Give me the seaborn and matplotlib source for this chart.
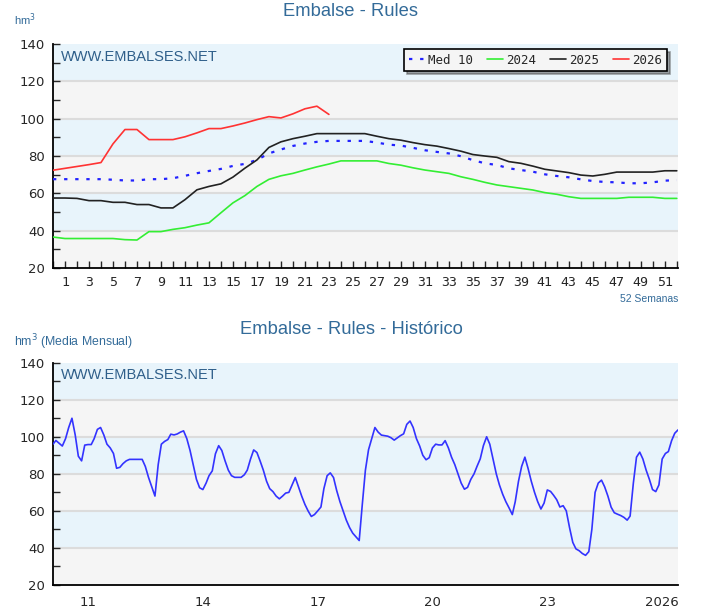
import numpy as np
import pandas as pd
import matplotlib
matplotlib.use("Agg")
import matplotlib.pyplot as plt
import seaborn as sns

# weekly reservoir volume (hm3), weeks 0..52
weeks = list(range(0, 53))
med10 = [67.6, 67.6, 67.6, 67.6, 67.6, 67.3, 66.9, 66.9, 67.6, 67.6,
         68.1, 69.4, 70.8, 72.0, 73.1, 74.7, 75.8, 77.9, 81.4, 83.5,
         85.4, 86.7, 87.6, 88.1, 88.1, 88.1, 88.1, 87.2, 86.1, 85.6,
         84.4, 83.1, 82.2, 81.4, 79.9, 77.8, 76.1, 75.2, 73.4, 72.5,
         71.6, 70.2, 69.3, 68.6, 67.5, 66.6, 66.1, 65.9, 65.4, 65.4,
         65.9, 66.8, 67.1]
y2024 = [36.6, 35.8, 35.8, 35.8, 35.8, 35.8, 35.2, 35.0, 39.5, 39.5,
         40.7, 41.6, 43.0, 44.2, 49.6, 54.9, 58.8, 63.7, 67.5, 69.4,
         70.7, 72.5, 74.2, 75.7, 77.4, 77.4, 77.4, 77.4, 76.0, 75.1,
         73.7, 72.5, 71.6, 70.7, 68.9, 67.5, 65.9, 64.5, 63.6, 62.7,
         61.8, 60.4, 59.5, 58.2, 57.3, 57.3, 57.3, 57.3, 57.9, 57.9,
         57.9, 57.3, 57.3]
y2025 = [57.5, 57.5, 57.3, 56.1, 56.1, 55.2, 55.2, 54.0, 54.0, 52.2,
         52.2, 56.6, 61.9, 63.7, 65.1, 68.7, 73.5, 77.9, 84.6, 87.6,
         89.3, 90.6, 92.0, 92.0, 92.0, 92.0, 92.0, 90.6, 89.3, 88.5,
         87.2, 86.1, 85.3, 84.0, 82.6, 80.8, 80.0, 79.3, 77.0, 76.1,
         74.6, 72.9, 72.0, 71.1, 69.8, 69.3, 70.2, 71.4, 71.4, 71.4,
         71.4, 72.1, 72.1]
y2026 = [72.4, 73.4, 74.4, 75.4, 76.5, 86.5, 94.2, 94.2, 88.8, 88.8,
         88.8, 90.3, 92.4, 94.7, 94.7, 96.1, 97.7, 99.5, 101.1, 100.4,
         102.6, 105.3, 106.7, 102.3]

# monthly mean (hm3), Feb 2010 .. Jun 2026
hist_start = "2010-02-01"
hist_values = [
    96, 98, 96.5, 95, 99, 105, 110, 101, 89.5, 87, 95.5,
    95.8, 95.8, 99, 104, 105, 101, 96, 94, 91, 83, 83.5, 85.5,
    87, 87.8, 87.8, 87.8, 87.8, 87.8, 84, 78, 73, 68, 85, 96,
    97.5, 98.5, 101.4, 101, 101.5, 102.5, 103.2, 99, 92.6, 85, 77, 72.5,
    71.5, 75, 79, 81.6, 90.8, 95.2, 92.6, 87, 82, 79, 78.1, 78.1,
    78.1, 79.5, 82, 88, 92.9, 91.5, 87, 82, 76, 72, 70.4, 68,
    66.5, 68, 69.6, 70, 74, 78, 73, 68, 63.5, 60, 57, 58,
    60, 62.1, 72, 79, 80.5, 78, 71, 65, 60, 55, 51, 48,
    46, 44, 62.5, 81.9, 93, 99, 105, 102.5, 100.9, 100.6, 100.3, 99.5,
    98.2, 99.5, 100.6, 101.6, 106.7, 108.5, 105, 99, 95, 90, 87.6, 88.7,
    94, 96, 95.6, 95.6, 97.9, 94, 89, 85, 80, 75, 71.7, 72.7,
    77, 80, 84, 88.1, 95.2, 100, 96, 88, 80, 74, 69, 65,
    61.6, 58, 65, 76, 84, 89, 83, 76, 70, 65, 61, 64.2,
    71.3, 70.5, 68.5, 66, 62.1, 62.8, 60, 51, 43, 39.5, 38.5, 37,
    36, 38, 50, 70, 75, 76.6, 73, 68, 62, 59, 58.2, 57.5,
    56.5, 55, 57.2, 75, 89, 91.7, 88, 82, 77, 71.5, 70.4, 74,
    88, 91, 92, 97.9, 101.9, 103.7,
]
hist_ticks = ["2011", "2014", "2017", "2020", "2023", "2026"]
hist_tick_labels = ["11", "14", "17", "20", "23", "2026"]

TITLE_C = "#336b99"
BAND_C = "#e8f4fb"
FACE_C = "#f5f5f5"
GRID_C = "#dcdcdc"

sns.set_style("white")
plt.rcParams["font.family"] = ["DejaVu Sans"]

fig = plt.figure(figsize=(7.17, 6.15), dpi=100)
ax1 = fig.add_axes([0.0739, 0.5642, 0.8717, 0.3642])
ax2 = fig.add_axes([0.0739, 0.0488, 0.8717, 0.3615])


def style_axes(ax):
    ax.set_facecolor(FACE_C)
    for lo in (120, 80, 40):
        ax.axhspan(lo, lo + 20, color=BAND_C, zorder=0, lw=0)
    for yv in (40, 60, 80, 100, 120):
        ax.axhline(yv, color=GRID_C, lw=1.5, zorder=0.5)
    ax.set_ylim(20, 140)
    ax.set_yticks(range(20, 141, 20))
    ax.set_yticks(range(30, 140, 20), minor=True)
    for s in ("top", "right"):
        ax.spines[s].set_visible(False)
    for s in ("left", "bottom"):
        ax.spines[s].set_color("black")
        ax.spines[s].set_linewidth(1.3)
    ax.tick_params(axis="y", which="both", direction="in", length=5,
                   width=1, labelsize=9.5, pad=6, left=True)
    ax.text(0.012, 0.975, "WWW.EMBALSES.NET", transform=ax.transAxes,
            ha="left", va="top", color="#2f5f8a", fontsize=10.5,
            family="Liberation Sans", zorder=3)
    ax.set_xlabel("")
    ax.set_ylabel("")


# --- top chart: weekly ---
style_axes(ax1)
sns.lineplot(x=weeks, y=med10, ax=ax1, color="#2222ff", lw=1.6,
             linestyle=(0, (1.5, 3.5)), label="Med 10", zorder=3)
sns.lineplot(x=weeks, y=y2024, ax=ax1, color="#33ee33", lw=1.2,
             label="2024", zorder=3)
sns.lineplot(x=weeks, y=y2025, ax=ax1, color="#222222", lw=1.2,
             label="2025", zorder=3)
sns.lineplot(x=weeks[:len(y2026)], y=y2026, ax=ax1, color="#ff3333", lw=1.2,
             label="2026", zorder=3)
ax1.set_xlim(0, 52.1)
ax1.set_xticks(range(1, 52, 2))
ax1.set_xticks(range(0, 53), minor=True)
ax1.tick_params(axis="x", which="both", direction="in", length=5, width=1,
                bottom=True, labelsize=9.5, pad=6)
for t in ax1.get_xticklabels():
    t.set_family("DejaVu Sans Mono")
leg = ax1.legend(loc="upper right", ncol=4, frameon=True, fancybox=False,
                 shadow=True, edgecolor="black", facecolor=FACE_C,
                 prop={"family": "DejaVu Sans Mono", "size": 9},
                 handlelength=1.3, handletextpad=0.25, columnspacing=1.1,
                 borderpad=0.35, bbox_to_anchor=(0.992, 1.005))
leg.get_frame().set_linewidth(1.2)
leg.get_frame().set_alpha(1)
ax1.text(1.0, -0.115, "52 Semanas", transform=ax1.transAxes, ha="right",
         va="top", color=TITLE_C, fontsize=7.5, family="Liberation Sans")

# --- bottom chart: monthly history ---
style_axes(ax2)
hist_dates = pd.date_range(hist_start, periods=len(hist_values), freq="MS")
hist = pd.DataFrame({"fecha": hist_dates, "hm3": hist_values})
sns.lineplot(data=hist, x="fecha", y="hm3", ax=ax2, color="#3333ff", lw=1.2,
             zorder=3)
ax2.set_xlim(hist_dates[0], hist_dates[-1])
ax2.set_xticks(pd.to_datetime(hist_ticks))
ax2.set_xticklabels(hist_tick_labels)
ax2.tick_params(axis="x", which="both", length=0, labelsize=9.5, pad=8)
ax2.set_xlabel("")
ax2.set_ylabel("")

# titles and units
fig.text(0.489, 0.981, "Embalse - Rules", ha="center", va="center",
         color=TITLE_C, fontsize=13.2, family="Liberation Sans")
fig.text(0.49, 0.465, "Embalse - Rules - Histórico", ha="center",
         va="center", color=TITLE_C, fontsize=13.2, family="Liberation Sans")
fig.text(0.02, 0.968, "hm$^3$", ha="left", va="center", color=TITLE_C,
         fontsize=8, family="Liberation Sans")
fig.text(0.02, 0.444, "hm$^3$ (Media Mensual)", ha="left", va="center",
         color=TITLE_C, fontsize=8.8, family="Liberation Sans")

fig.savefig("out.png", dpi=100, facecolor="white")
